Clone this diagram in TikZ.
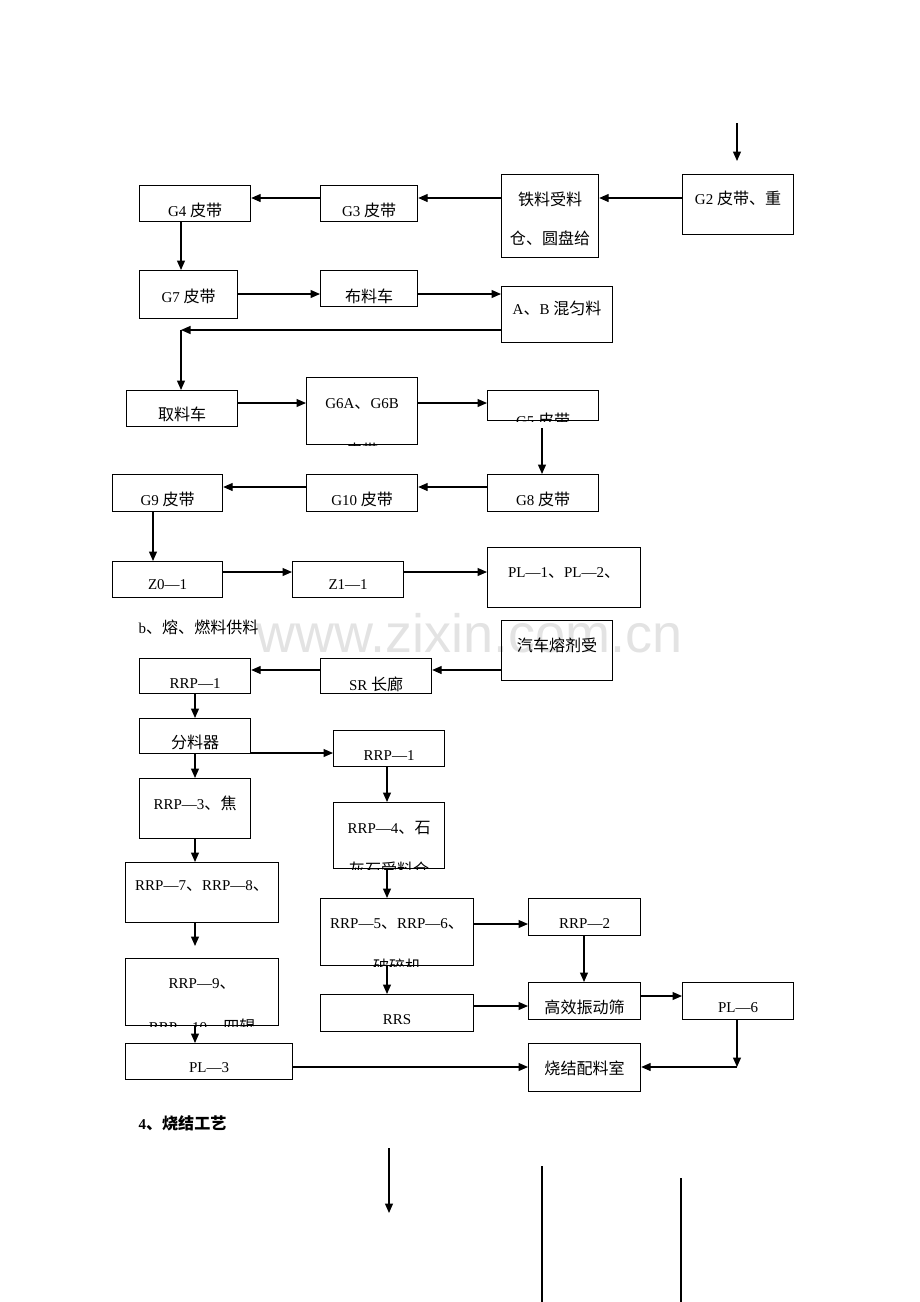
\documentclass[tikz,border=0pt]{standalone}
\usepackage{fontspec}
\setmainfont{Liberation Serif}
\newfontfamily\zh[Scale=1.07]{Noto Sans CJK SC}
\newfontfamily\wm{Liberation Sans}
\usetikzlibrary{arrows.meta}

\begin{document}
\begin{tikzpicture}[x=1pt, y=-1pt, line width=1.2pt,
  >={Triangle[length=9.5pt,width=8pt]},
  box/.style 2 args={draw, anchor=north west, inner sep=0,
    minimum width=#1, minimum height=#2},
  txt/.style={font=\fontsize{15}{18}\selectfont, inner sep=0}]
  \useasboundingbox (0,0) rectangle (920,1302);

  \node[font=\wm\fontsize{54}{60}\selectfont, text=black!11, inner sep=0]
    (wmk) at (470,633) {www.zixin.com.cn};

  % boxes
  \node[box={111}{60}] (g2) at (682,174) {};
  \node[box={97}{83}] (tl) at (501,174) {};
  \node[box={97}{36}] (g3) at (320,185) {};
  \node[box={111}{36}] (g4) at (139,185) {};
  \node[box={98}{48}] (g7) at (139,270) {};
  \node[box={97}{36}] (blc) at (320,270) {};
  \node[box={111}{56}] (ab) at (501,286) {};
  \node[box={111}{36}] (qlc) at (126,390) {};
  \node[box={111}{67}] (g6) at (306,377) {};
  \node[box={111}{30}] (g5) at (487,390) {};
  \node[box={111}{37}] (g8) at (487,474) {};
  \node[box={111}{37}] (g10) at (306,474) {};
  \node[box={110}{37}] (g9) at (112,474) {};
  \node[box={110}{36}] (z0) at (112,561) {};
  \node[box={111}{36}] (z1) at (292,561) {};
  \node[box={153}{60}] (pl12) at (487,547) {};
  \node[box={111}{60}] (qc) at (501,620) {};
  \node[box={111}{35}] (sr) at (320,658) {};
  \node[box={111}{35}] (rrpa) at (139,658) {};
  \node[box={111}{35}] (flq) at (139,718) {};
  \node[box={111}{36}] (rrpb) at (333,730) {};
  \node[box={111}{60}] (rrp3) at (139,778) {};
  \node[box={111}{66}] (rrp4) at (333,802) {};
  \node[box={153}{60}] (rrp7) at (125,862) {};
  \node[box={153}{67}] (rrp5) at (320,898) {};
  \node[box={112}{37}] (rrp2) at (528,898) {};
  \node[box={153}{67}] (rrp9) at (125,958) {};
  \node[box={153}{37}] (rrs) at (320,994) {};
  \node[box={112}{37}] (gx) at (528,982) {};
  \node[box={111}{37}] (pl6) at (682,982) {};
  \node[box={167}{36}] (pl3) at (125,1043) {};
  \node[box={112}{48}] (sj) at (528,1043) {};

  % texts
  \node[txt] (g2t) at (g2 |- 0,198) {G2 {\zh 皮带、重}};
  \node[txt] (tlt) at (tl |- 0,199) {\zh 铁料受料};
  \node[txt] (tlu) at (tl |- 0,238) {\zh 仓、圆盘给};
  \node[txt] (g3t) at (g3 |- 0,210) {G3 {\zh 皮带}};
  \node[txt] (g4t) at (g4 |- 0,210) {G4 {\zh 皮带}};
  \node[txt] (g7t) at (g7 |- 0,296) {G7 {\zh 皮带}};
  \node[txt] (blct) at (blc |- 0,296) {\zh 布料车};
  \node[txt] (abt) at (ab |- 0,308) {A{\zh 、}B {\zh 混匀料}};
  \node[txt] (qlct) at (qlc |- 0,414) {\zh 取料车};
  \node[txt] (g6t) at (g6 |- 0,404) {G6A{\zh 、}G6B};
  \node[txt] (g8t) at (g8 |- 0,499) {G8 {\zh 皮带}};
  \node[txt] (g10t) at (g10 |- 0,499) {G10 {\zh 皮带}};
  \node[txt] (g9t) at (g9 |- 0,499) {G9 {\zh 皮带}};
  \node[txt] (z0t) at (z0 |- 0,585) {Z0—1};
  \node[txt] (z1t) at (z1 |- 0,585) {Z1—1};
  \node[txt] (pl12t) at (pl12 |- 0,573) {PL—1{\zh 、}PL—2{\zh 、}};
  \node[txt, anchor=west] (hb) at (138,627) {b{\zh 、熔、燃料供料}};
  \node[txt] (qct) at (qc |- 0,645) {\zh 汽车熔剂受};
  \node[txt] (srt) at (sr |- 0,684) {SR {\zh 长廊}};
  \node[txt] (rrpat) at (rrpa |- 0,684) {RRP—1};
  \node[txt] (flqt) at (flq |- 0,742) {\zh 分料器};
  \node[txt] (rrpbt) at (rrpb |- 0,756) {RRP—1};
  \node[txt] (rrp3t) at (rrp3 |- 0,803) {RRP—3{\zh 、焦}};
  \node[txt] (rrp4t) at (rrp4 |- 0,828) {RRP—4{\zh 、石}};
  \node[txt] (rrp7t) at (rrp7 |- 0,886) {RRP—7{\zh 、}RRP—8{\zh 、}};
  \node[txt] (rrp5t) at (rrp5 |- 0,924) {RRP—5{\zh 、}RRP—6{\zh 、}};
  \node[txt] (rrp2t) at (rrp2 |- 0,924) {RRP—2};
  \node[txt] (rrp9t) at (rrp9 |- 0,984) {RRP—9{\zh 、}};
  \node[txt] (rrst) at (rrs |- 0,1020) {RRS};
  \node[txt] (gxt) at (gx |- 0,1007) {\zh 高效振动筛};
  \node[txt] (pl6t) at (pl6 |- 0,1008) {PL—6};
  \node[txt] (pl3t) at (pl3 |- 0,1068) {PL—3};
  \node[txt] (sjt) at (sj |- 0,1068) {\zh 烧结配料室};
  \node[txt, anchor=west, font=\fontsize{15}{18}\selectfont\bfseries]
    (h4) at (138,1123) {4{\zh 、烧结工艺}};

  % text cut off by the box edge
  \begin{scope}
    \clip (g6.south west) rectangle (g6.north east);
    \node[txt] (g6u) at (g6 |- 0,450) {\zh 皮带};
  \end{scope}
  \begin{scope}
    \clip (g5.south west) rectangle (g5.north east);
    \node[txt] (g5t) at (g5 |- 0,420) {G5 {\zh 皮带}};
  \end{scope}
  \begin{scope}
    \clip (rrp4.south west) rectangle (rrp4.north east);
    \node[txt] (rrp4u) at (rrp4 |- 0,869) {\zh 灰石受料仓};
  \end{scope}
  \begin{scope}
    \clip (rrp5.south west) rectangle (rrp5.north east);
    \node[txt] (rrp5u) at (rrp5 |- 0,966) {\zh 破碎机};
  \end{scope}
  \begin{scope}
    \clip (rrp9.south west) rectangle (rrp9.north east);
    \node[txt] (rrp9u) at (rrp9 |- 0,1026) {RRP—10{\zh 、四辊}};
  \end{scope}

  % connectors
  \foreach \a/\b/\y in {g2/tl/198, tl/g3/198, g3/g4/198, g8/g10/487,
      g10/g9/487, qc/sr/670, sr/rrpa/670}
    \draw[->] (\a.west |- 0,\y) -- (\b.east |- 0,\y);
  \foreach \a/\b/\y in {g7/blc/294, blc/ab/294, qlc/g6/403, g6/g5/403,
      z0/z1/572, z1/pl12/572, flq/rrpb/753, rrp5/rrp2/924, rrs/gx/1006,
      gx/pl6/996, pl3/sj/1067}
    \draw[->] (\a.east |- 0,\y) -- (\b.west |- 0,\y);
  \foreach \a/\b/\x in {g4/g7/181, g9/z0/153, rrpa/flq/195, flq/rrp3/195,
      rrpb/rrp4/387, rrp3/rrp7/195, rrp4/rrp5/387, rrp5/rrs/387,
      rrp2/gx/584, rrp9/pl3/195}
    \draw[->] (\a.south -| \x,0) -- (\b.north -| \x,0);

  \coordinate (in1) at (737,123);
  \draw[->, shorten >=13pt] (in1) -- (g2.north -| in1);
  \draw[->, shorten <=7pt] (g5.south -| 542,0) -- (g8.north -| 542,0);
  \draw[->, shorten >=12pt] (rrp7.south -| 195,0) -- (rrp9.north -| 195,0);

  \coordinate (c1) at (181,330);
  \draw[->] (ab.west |- c1) -- (c1);
  \draw[->] (c1) -- (qlc.north -| c1);

  \coordinate (c2) at (737,1067);
  \draw[->] (pl6.south -| c2) -- (c2);
  \draw[->] (c2) -- (sj.east |- c2);

  \coordinate (s1) at (389,1148);
  \coordinate (s1e) at (389,1213);
  \draw[->] (s1) -- (s1e);
  \coordinate (s2) at (542,1166);
  \coordinate (s2e) at (542,1302);
  \draw (s2) -- (s2e);
  \coordinate (s3) at (681,1178);
  \coordinate (s3e) at (681,1302);
  \draw (s3) -- (s3e);
\end{tikzpicture}
\end{document}
